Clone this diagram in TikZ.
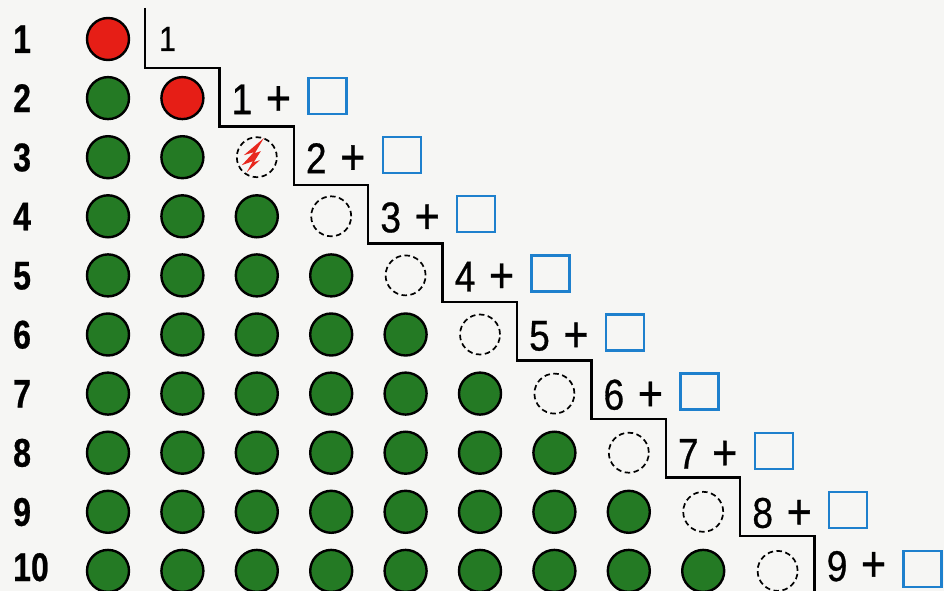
\documentclass[tikz,border=0pt]{standalone}
\usepackage{fontspec}
\setmainfont{Liberation Sans}
\newfontfamily\labelfont{Liberation Sans Bold}[FakeStretch=0.8,FakeBold=0.6]
\newfontfamily\exprfont{Liberation Sans}[FakeStretch=0.86,FakeBold=0.7]
\definecolor{dotred}{RGB}{230,30,22}
\definecolor{dotgreen}{RGB}{36,122,36}
\definecolor{boxblue}{RGB}{30,128,205}
\definecolor{paper}{RGB}{246,246,244}
\definecolor{pencil}{RGB}{232,40,30}
\begin{document}
\begin{tikzpicture}[x=1pt,y=-1pt,
  dot/.style={circle,draw=black,line width=2.4pt,minimum size=42pt,inner sep=0pt},
  reddot/.style={dot,fill=dotred},
  greendot/.style={dot,fill=dotgreen},
  emptydot/.style={circle,draw=black,line width=1.7pt,dash pattern=on 5.5pt off 3.5pt,minimum size=40pt,inner sep=0pt},
  rowlabel/.style={anchor=base west,font=\labelfont\fontsize{40}{40}\selectfont,inner sep=0pt,text depth=0pt},
  expr/.style={anchor=base west,font=\exprfont\fontsize{43}{43}\selectfont,inner sep=0pt,text depth=0pt},
  plus/.style={anchor=base,font=\exprfont\fontsize{50}{50}\selectfont,inner sep=0pt,text depth=0pt},
  answerbox/.style={draw=boxblue,line width=2.3pt,minimum width=38pt,minimum height=36pt,inner sep=0pt},
  stair/.style={line width=2.5pt,line join=miter}]
\fill[paper] (0,0) rectangle (944,591);
\useasboundingbox (0,0) rectangle (944,591);
% staircase
\coordinate (s0) at (145,8);
\draw[stair] (s0)
  \foreach \n in {1,...,9}{
    -- ({145+(\n-1)*74.4},{68+(\n-1)*58.5}) -- ({145+\n*74.4},{68+(\n-1)*58.5})
  } -- ({145+9*74.4},593);
% rows
\foreach \n in {1,...,10}{
  \pgfmathsetmacro{\yy}{39+(\n-1)*59.1}
  \pgfmathsetmacro{\xx}{145+(\n-1)*74.4}
  \node[rowlabel] (L\n) at (13,{min(\yy+14,581)}) {\n};
  \foreach \k in {1,...,\n}{
    \pgfmathsetmacro{\cx}{108+(\k-1)*74.4}
    \ifnum\n<3
      \ifnum\k=\n
        \node[reddot] (c\n-\k) at (\cx,\yy) {};
      \else
        \node[greendot] (c\n-\k) at (\cx,\yy) {};
      \fi
    \else
      \ifnum\k=\n
        \node[emptydot] (c\n-\k) at (\cx,\yy) {};
      \else
        \node[greendot] (c\n-\k) at (\cx,\yy) {};
      \fi
    \fi
  }
  \ifnum\n=1
    \node[expr,font=\exprfont\fontsize{35}{35}\selectfont] (e1) at (\xx+14,\yy+12) {1};
  \else
    \pgfmathtruncatemacro{\m}{\n-1}
    \node[expr] (e\n) at (\xx+12,{min(\yy+16,581)}) {\m};
    \node[plus] (p\n) at (\xx+59,{min(\yy+17,581)}) {+};
    \node[answerbox] (b\n) at (\xx+108,\yy-2) {};
  \fi
}
% red pencil mark in row 3
\fill[pencil] ([shift={(7,-19)}]c3-3.center) -- ++(-20,17) -- ++(10,-3) -- ++(-12,13)
  -- ++(11,-4) -- ++(-6,11) -- ++(13,-12) -- ++(-6,2) -- ++(7,-11) -- ++(-6,2) -- cycle;
\end{tikzpicture}
\end{document}
